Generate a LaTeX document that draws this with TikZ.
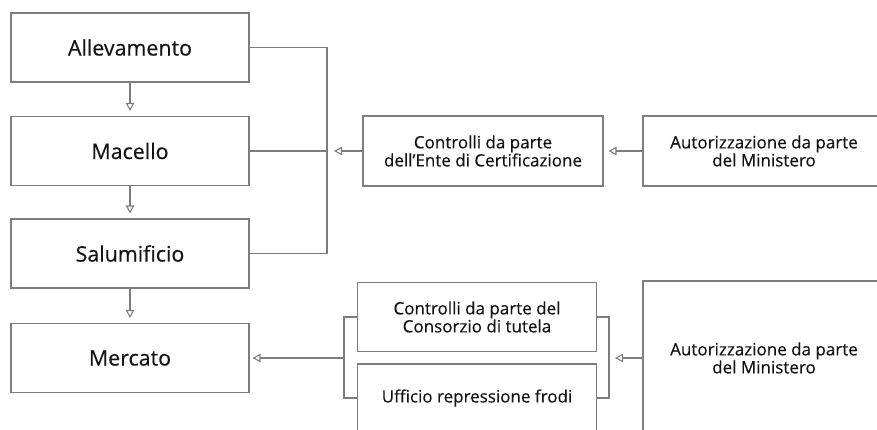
\documentclass[tikz,border=0pt]{standalone}
\usepackage{fontspec}
\setmainfont{Open Sans}[FakeBold=0.35]
\usetikzlibrary{arrows.meta}
\definecolor{linegray}{RGB}{125,125,125}
\definecolor{textgray}{RGB}{20,20,20}

\begin{document}
\begin{tikzpicture}[x=1pt,y=-1pt,
        box/.style={shape=rectangle,draw=linegray,line width=1.1pt,inner sep=0pt,align=center,text=textgray},
        bigbox/.style={box,minimum width=238pt,minimum height=69pt,font=\fontsize{21.4}{25}\selectfont},
        smallbox/.style={box,font=\fontsize{17}{16.4}\selectfont},
        conn/.style={draw=linegray,line width=1.1pt},
        arr/.style={conn,-{Triangle[open,length=8pt,width=8.5pt]}}]
    \useasboundingbox (0,0) rectangle (877,430);
    \clip (0,0) rectangle (877,430);
        \node[bigbox] (allev) at (130,47.5) {Allevamento};
        \node[bigbox] (macel) at (130,151) {Macello};
        \node[bigbox] (salum) at (130,253.5) {Salumificio};
        \node[bigbox] (merca) at (130,358) {Mercato};
        \node[smallbox,minimum width=240pt,minimum height=70pt] (ente) at (483,151) {Controlli da parte\\dell’Ente di Certificazione};
        \node[smallbox,minimum width=242pt,minimum height=70pt] (mini1) at (764,151) {Autorizzazione da parte\\del Ministero};
        \node[smallbox,minimum width=239pt,minimum height=69pt] (cons) at (477,317) {Controlli da parte del\\Consorzio di tutela};
        \node[smallbox,minimum width=239pt,minimum height=68pt] (uffic) at (477,398) {Ufficio repressione frodi};
        \node[smallbox,minimum width=242pt,minimum height=154pt] (mini2) at (764,358) {Autorizzazione da parte\\del Ministero};
        \coordinate (j1) at (327,151);
        \coordinate (j2) at (344,358);
        \coordinate (j3) at (609,358);
        \path (allev) edge[arr,shorten >=5pt] (macel);
        \path (macel) edge[arr,shorten >=5pt] (salum);
        \path (salum) edge[arr,shorten >=5pt] (merca);
        \draw [conn] (allev.east) -| (j1) |- (salum.east);
        \draw [conn] (macel.east) -- (j1);
        \path (ente.west) edge[arr,shorten >=7pt] (j1);
        \path (mini1.west) edge[arr,shorten >=5pt] (ente.east);
        \draw [conn] (cons.west) -| (j2) |- (uffic.west);
        \path (j2) edge[arr,shorten >=3pt] (merca.east);
        \draw [conn] (cons.east) -| (j3) |- (uffic.east);
        \path (mini2.west) edge[arr,shorten >=6pt] (j3);
    \end{tikzpicture}
\end{document}
